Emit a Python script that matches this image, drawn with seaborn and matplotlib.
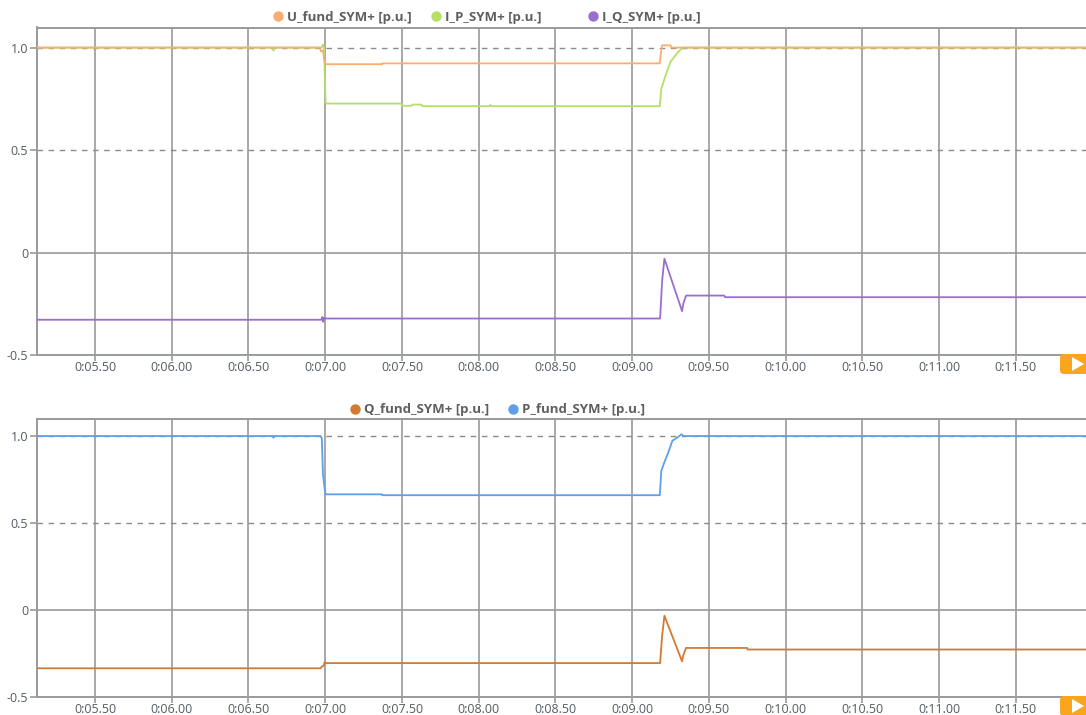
import matplotlib
matplotlib.use("Agg")
import matplotlib.pyplot as plt
from matplotlib.lines import Line2D
from matplotlib.patches import FancyBboxPatch, Polygon
import pandas as pd
import seaborn as sns

# ---- series data: time [s] and value [p.u.] ----
u_fund_t = [5.12, 6.965, 6.972, 6.985, 6.996, 7.002, 7.370, 7.372, 9.180, 9.186, 9.195, 9.250, 9.255, 11.96]
u_fund_v = [1.0, 1.0, 0.982, 0.985, 0.93, 0.919, 0.919, 0.923, 0.923, 0.965, 1.011, 1.011, 1.0, 1.0]

i_p_t = [5.12, 6.660, 6.663, 6.666, 6.975, 6.985, 6.992, 6.998, 7.003, 7.010, 7.495, 7.500, 7.560,
         7.570, 7.625, 7.635, 8.070, 8.075, 8.085, 9.180, 9.190, 9.216, 9.249, 9.295, 9.330, 11.96]
i_p_v = [1.0, 1.0, 0.985, 1.0, 1.0, 1.015, 1.0, 0.84, 0.73, 0.727, 0.727, 0.716, 0.716,
         0.722, 0.722, 0.714, 0.714, 0.72, 0.714, 0.714, 0.80, 0.86, 0.93, 0.975, 1.0, 1.0]

i_q_t = [5.12, 6.975, 6.981, 6.987, 6.993, 7.0, 9.182, 9.195, 9.210, 9.325, 9.333, 9.351, 9.600, 9.605, 11.96]
i_q_v = [-0.328, -0.328, -0.315, -0.338, -0.318, -0.322, -0.322, -0.14, -0.03, -0.286, -0.25, -0.21, -0.21, -0.218, -0.218]

q_fund_t = [5.12, 6.970, 6.978, 6.990, 6.996, 7.002, 9.182, 9.195, 9.210, 9.325, 9.333, 9.351, 9.749, 9.752, 11.96]
q_fund_v = [-0.335, -0.335, -0.325, -0.32, -0.30, -0.305, -0.305, -0.15, -0.033, -0.295, -0.26, -0.218, -0.218, -0.227, -0.227]

p_fund_t = [5.12, 6.660, 6.663, 6.666, 6.970, 6.978, 6.985, 6.996, 7.002, 7.370, 7.372, 9.180, 9.190,
            9.210, 9.236, 9.262, 9.300, 9.320, 9.335, 11.96]
p_fund_v = [1.0, 1.0, 0.99, 1.0, 1.0, 0.985, 0.78, 0.70, 0.665, 0.665, 0.66, 0.66, 0.80,
            0.85, 0.907, 0.973, 0.995, 1.01, 1.0, 1.0]

x_ticks = [5.5, 6.0, 6.5, 7.0, 7.5, 8.0, 8.5, 9.0, 9.5, 10.0, 10.5, 11.0, 11.5]
x_tick_labels = ["0:05.50", "0:06.00", "0:06.50", "0:07.00", "0:07.50", "0:08.00", "0:08.50",
                 "0:09.00", "0:09.50", "0:10.00", "0:10.50", "0:11.00", "0:11.50"]
y_ticks = [-0.5, 0.0, 0.5, 1.0]
y_tick_labels = ["-0.5", "0", "0.5", "1.0"]

top_series = ["I_P_SYM+ [p.u.]", "U_fund_SYM+ [p.u.]", "I_Q_SYM+ [p.u.]"]
bottom_series = ["Q_fund_SYM+ [p.u.]", "P_fund_SYM+ [p.u.]"]

colors = {
    "U_fund_SYM+ [p.u.]": "#F9AC74",
    "I_P_SYM+ [p.u.]": "#B5DF66",
    "I_Q_SYM+ [p.u.]": "#9A6ECE",
    "Q_fund_SYM+ [p.u.]": "#D27A33",
    "P_fund_SYM+ [p.u.]": "#5E9FEA",
}


def long_frame(pairs):
    frames = []
    for name, t, v in pairs:
        frames.append(pd.DataFrame({"t": t, "value": v, "series": name}))
    return pd.concat(frames, ignore_index=True)


top_df = long_frame([
    ("I_P_SYM+ [p.u.]", i_p_t, i_p_v),
    ("U_fund_SYM+ [p.u.]", u_fund_t, u_fund_v),
    ("I_Q_SYM+ [p.u.]", i_q_t, i_q_v),
])
bottom_df = long_frame([
    ("Q_fund_SYM+ [p.u.]", q_fund_t, q_fund_v),
    ("P_fund_SYM+ [p.u.]", p_fund_t, p_fund_v),
])

sns.set_theme(style="white")
plt.rcParams["font.family"] = ["Open Sans", "DejaVu Sans"]

W, H = 1086, 715
fig = plt.figure(figsize=(W / 100, H / 100), dpi=100)
fig.patch.set_facecolor("white")

grid_col = "#9a9a9a"
text_col = "#545b63"
x_lo, x_hi = 5.12, 11.957
y_lo, y_hi = -0.5, 1.098


def panel(rect, df, order):
    ax = fig.add_axes(rect)
    ax.set_facecolor("white")
    for xt in x_ticks:
        ax.axvline(xt, color=grid_col, lw=1.2, zorder=0)
    ax.axhline(0.0, color=grid_col, lw=1.2, zorder=0)
    for yv in (0.5, 1.0):
        ax.axhline(yv, color="#8a8a8a", lw=1.0, ls=(0, (4, 4)), zorder=0)
    sns.lineplot(data=df, x="t", y="value", hue="series", hue_order=order,
                 palette=colors, sort=False, estimator=None, legend=False,
                 linewidth=1.3, ax=ax, zorder=3)
    ax.set_xlim(x_lo, x_hi)
    ax.set_ylim(y_lo, y_hi)
    ax.set_xticks(x_ticks)
    ax.set_xticklabels(x_tick_labels)
    ax.set_yticks(y_ticks)
    ax.set_yticklabels(y_tick_labels)
    ax.set_xlabel("")
    ax.set_ylabel("")
    for side in ("left", "bottom", "top"):
        ax.spines[side].set_visible(True)
        ax.spines[side].set_color(grid_col)
        ax.spines[side].set_linewidth(1.4)
    ax.spines["right"].set_visible(False)
    ax.tick_params(axis="y", which="major", direction="out", length=5, width=1.2,
                   color=grid_col, labelcolor=text_col, labelsize=9, pad=1, left=True)
    ax.tick_params(axis="x", which="major", direction="out", length=4, width=1.2,
                   color=grid_col, labelcolor=text_col, labelsize=9, pad=0.5, bottom=True)
    return ax


ax_top = panel([36.7 / W, 1 - 355 / H, 1 - 36.7 / W, (355 - 27.5) / H], top_df, top_series)
ax_bot = panel([36.7 / W, 1 - 697 / H, 1 - 36.7 / W, (697 - 419) / H], bottom_df, bottom_series)

# legend keys placed above each panel, fixed slot per entry
legend_font = dict(family="Open Sans", weight="bold", size=9.5)
legend_slots = [
    ("U_fund_SYM+ [p.u.]", 278, 17),
    ("I_P_SYM+ [p.u.]", 436, 17),
    ("I_Q_SYM+ [p.u.]", 593, 17),
    ("Q_fund_SYM+ [p.u.]", 355, 410),
    ("P_fund_SYM+ [p.u.]", 513, 410),
]
for name, px, py in legend_slots:
    h = Line2D([], [], marker="o", linestyle="none", markersize=7.5,
               markerfacecolor=colors[name], markeredgewidth=0)
    fig.legend(handles=[h], labels=[name], loc="center left",
               bbox_to_anchor=((px - 5) / W, 1 - py / H), bbox_transform=fig.transFigure,
               frameon=False, borderpad=0, borderaxespad=0, handlelength=0.8,
               handletextpad=0.28, prop=legend_font, labelcolor="#5f5f5f")

# scroll buttons at the lower right of each panel
for top_px in (354, 696):
    box = FancyBboxPatch((1060 / 100, (H - top_px - 20) / 100), 0.40, 0.20,
                         boxstyle="round,pad=0,rounding_size=0.04",
                         transform=fig.dpi_scale_trans, facecolor="#F9A51E",
                         edgecolor="none", zorder=10)
    fig.add_artist(box)
    tri = Polygon([(1072 / 100, (H - top_px - 3) / 100),
                   (1072 / 100, (H - top_px - 17) / 100),
                   (1084 / 100, (H - top_px - 10) / 100)],
                  closed=True, transform=fig.dpi_scale_trans, facecolor="white",
                  edgecolor="none", zorder=11)
    fig.add_artist(tri)

fig.savefig("out.png", dpi=100)
